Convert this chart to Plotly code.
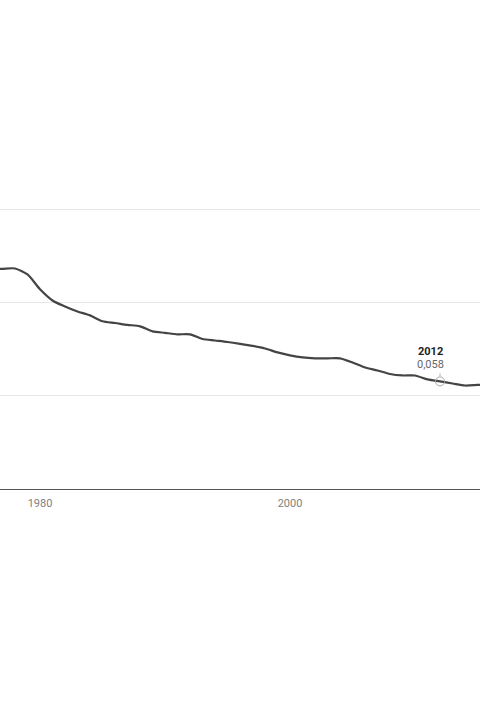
import plotly.graph_objects as go

years = list(range(1975, 2017))
values = [0.1180, 0.1180, 0.1183, 0.1185, 0.1153, 0.1073, 0.1013, 0.0981, 0.0954, 0.0933,
          0.0901, 0.0892, 0.0882, 0.0874, 0.0847, 0.0839, 0.0831, 0.0831, 0.0806, 0.0798,
          0.0790, 0.0780, 0.0769, 0.0755, 0.0734, 0.0718, 0.0707, 0.0702, 0.0702, 0.0702,
          0.0680, 0.0653, 0.0637, 0.0618, 0.0610, 0.0610, 0.0589, 0.0578, 0.0567, 0.0556,
          0.0559, 0.0562]

hl_year = 2012
hl_value = values[years.index(hl_year)]
hl_label = "0,058"

fig = go.Figure()
fig.add_trace(go.Scatter(
    x=years, y=values, mode="lines",
    line=dict(color="#444444", width=2.2, shape="spline", smoothing=0.7),
    hoverinfo="skip",
))
fig.add_trace(go.Scatter(
    x=[hl_year], y=[hl_value], mode="markers",
    marker=dict(symbol="circle-open", size=9, color="#aaaaaa", line=dict(width=1)),
    hoverinfo="skip",
))

# label above the highlighted point
fig.add_annotation(x=hl_year, y=hl_value, text="<b>2012</b>", showarrow=False,
                   xshift=-10, yshift=30, font=dict(size=11, color="#222222"))
fig.add_annotation(x=hl_year, y=hl_value, text=hl_label, showarrow=False,
                   xshift=-10, yshift=17, font=dict(size=11, color="#666666"))
fig.add_annotation(x=hl_year, y=hl_value, text=" ", showarrow=True, ax=0, ay=-10,
                   arrowhead=0, arrowwidth=1, arrowcolor="#aaaaaa", standoff=5,
                   font=dict(size=1))

fig.update_layout(
    width=480, height=720,
    margin=dict(l=0, r=0, t=154, b=231),
    paper_bgcolor="white", plot_bgcolor="white",
    showlegend=False,
    font=dict(family="Roboto, sans-serif"),
    xaxis=dict(range=[1976.8, 2015.2], tickvals=[1980, 2000], ticktext=["1980", "2000"],
               showgrid=False, zeroline=False, showline=True, linecolor="#555555",
               linewidth=1, ticks="", ticklabelstandoff=4,
               tickfont=dict(size=11, color="#808080")),
    yaxis=dict(range=[0, 0.18], dtick=0.05, showticklabels=False, gridcolor="#e6e6e6",
               gridwidth=1, zeroline=False, showline=False),
)

fig.write_html(
    "out.html",
    config={"responsive": False, "displayModeBar": False},
    post_script="document.body.style.margin='0';document.body.style.overflow='hidden';",
)
